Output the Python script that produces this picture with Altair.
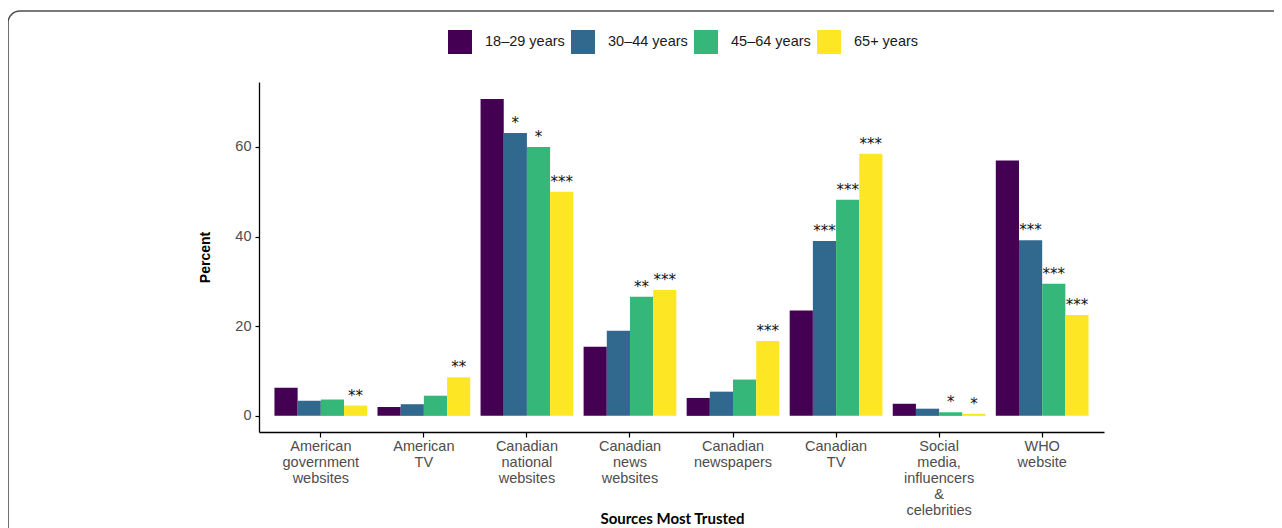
import altair as alt
import pandas as pd

sources = [
    "American\ngovernment\nwebsites",
    "American\nTV",
    "Canadian\nnational\nwebsites",
    "Canadian\nnews\nwebsites",
    "Canadian\nnewspapers",
    "Canadian\nTV",
    "Social\nmedia,\ninfluencers\n&\ncelebrities",
    "WHO\nwebsite",
]
ages = ["18–29 years", "30–44 years", "45–64 years", "65+ years"]
colors = ["#440154", "#31688E", "#35B779", "#FDE725"]

pct_18_29 = [6.3, 2.0, 70.7, 15.4, 4.0, 23.5, 2.7, 57.0]
pct_30_44 = [3.35, 2.6, 63.1, 19.0, 5.4, 39.0, 1.6, 39.2]
pct_45_64 = [3.65, 4.5, 60.0, 26.6, 8.1, 48.2, 0.8, 29.5]
pct_65_plus = [2.3, 8.6, 50.0, 28.1, 16.7, 58.5, 0.45, 22.5]

sig_18_29 = ["", "", "", "", "", "", "", ""]
sig_30_44 = ["", "", "*", "", "", "***", "", "***"]
sig_45_64 = ["", "", "*", "**", "", "***", "*", "***"]
sig_65_plus = ["**", "**", "***", "***", "***", "***", "*", "***"]

y_ticks = [0, 20, 40, 60]

rows = []
for age, vals, sigs in zip(ages, [pct_18_29, pct_30_44, pct_45_64, pct_65_plus],
                           [sig_18_29, sig_30_44, sig_45_64, sig_65_plus]):
    for src, v, s in zip(sources, vals, sigs):
        rows.append({"source": src, "age": age, "pct": v, "sig": s})
df = pd.DataFrame(rows)

base = alt.Chart(df).encode(
    x=alt.X(
        "source:N",
        sort=sources,
        scale=alt.Scale(paddingInner=0.1, paddingOuter=0.15),
        title="Sources Most Trusted",
        axis=alt.Axis(
            labelExpr="split(datum.label, '\\n')",
            labelAngle=0,
            labelColor="#4D4D4D",
            labelFont="Liberation Sans",
            labelFontSize=14.5,
            labelLineHeight=16,
            labelPadding=2,
            domainColor="black",
            domainWidth=1.3,
            tickColor="black",
            tickWidth=1.2,
            tickSize=5,
            titleFont="Lato",
            titleFontSize=15,
            titleFontWeight="bold",
            titleColor="black",
            titleX=413,
            titleY=91,
            titleBaseline="alphabetic",
        ),
    ),
    xOffset=alt.XOffset("age:N", sort=ages),
    y=alt.Y(
        "pct:Q",
        scale=alt.Scale(domain=[-3.6, 74.5], nice=False, zero=False),
        title="Percent",
        axis=alt.Axis(
            values=y_ticks,
            grid=False,
            labelColor="#4D4D4D",
            labelFont="Liberation Sans",
            labelFontSize=14.5,
            labelPadding=4,
            domainColor="black",
            domainWidth=1.3,
            tickColor="black",
            tickWidth=1.2,
            tickSize=4,
            titleFont="Liberation Sans",
            titleFontSize=14,
            titleFontWeight="bold",
            titleColor="black",
            titleX=-50,
            titleY=175,
            titleBaseline="alphabetic",
        ),
    ),
)

bars = base.mark_bar().encode(
    y2=alt.datum(0),
    color=alt.Color(
        "age:N",
        sort=ages,
        scale=alt.Scale(domain=ages, range=colors),
        legend=alt.Legend(
            title=None,
            orient="none",
            legendX=189,
            legendY=-52,
            direction="horizontal",
            symbolType="square",
            symbolSize=576,
            symbolStrokeWidth=0,
            symbolOpacity=1,
            labelFont="Liberation Sans",
            labelFontSize=14.5,
            labelColor="#1a1a1a",
            labelOffset=13,
            columnPadding=6,
            padding=0,
        ),
    ),
)

stars = base.mark_text(
    baseline="alphabetic", dy=-5, font="DejaVu Sans", fontSize=15, color="#111111"
).encode(text="sig:N")

frame = alt.Chart(alt.Data(values=[{"k": 1}])).mark_rect(
    filled=False, stroke="#4d4d4d", strokeWidth=1.6, cornerRadius=12
).encode(
    x=alt.value(-251), x2=alt.value(1100), y=alt.value(-71), y2=alt.value(700)
)

chart = alt.layer(frame, bars, stars).properties(
    width=845,
    height=350,
    autosize=alt.AutoSizeParams(type="none"),
    padding={"left": 251, "top": 74, "right": 170, "bottom": 96},
).configure_view(stroke=None)

chart.save("out.html", embed_options={"renderer": "svg", "actions": False})
